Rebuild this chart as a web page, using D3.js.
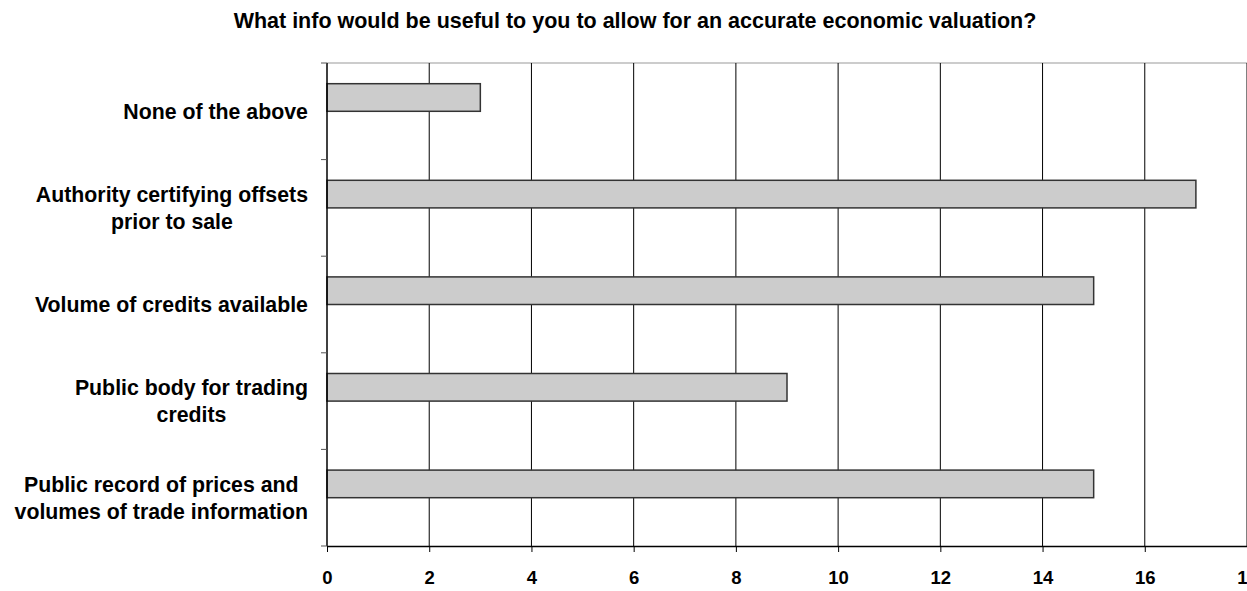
<!DOCTYPE html>
<html lang="en">

<head>
    <meta charset="UTF-8">
    <title>What info would be useful to you to allow for an accurate economic valuation?</title>
    <script src="https://d3js.org/d3.v7.min.js"></script>
    <style>
        body {
            margin: 0;
            background: #fff;
        }

        svg {
            display: block;
            font-family: "Liberation Sans", Arial, sans-serif;
            font-weight: bold;
        }
    </style>
</head>

<body>
    <svg width="1247" height="591"></svg>

    <script>
        // Categories top to bottom, with line breaks as in the original
        const categories = [
            "None of the above",
            "Authority certifying offsets\nprior to sale",
            "Volume of credits available",
            "Public body for trading\ncredits",
            "Public record of prices and\nvolumes of trade information"
        ];
        const counts = [3, 17, 15, 9, 15];
        const xTicks = [0, 2, 4, 6, 8, 10, 12, 14, 16, 18];
        const titleText = "What info would be useful to you to allow for an accurate economic valuation?";

        const svg = d3.select("svg"),
            margin = { top: 63, right: 0, bottom: 45, left: 327 },
            width = +svg.attr("width") - margin.left - margin.right,
            height = +svg.attr("height") - margin.top - margin.bottom;

        const g = svg.append("g").attr("transform", `translate(${margin.left},${margin.top})`);

        const x = d3.scaleLinear().domain([0, 18]).range([0, width]);
        const y = d3.scaleBand().domain(categories).range([0, height]).padding(0);
        // excel style: bar sits in the upper slot of a two-slot group
        const slot = d3.scaleBand().domain(["count", "empty"]).range([0, y.bandwidth()])
            .paddingInner(0).paddingOuter(0.75);

        // title
        svg.append("text")
            .attr("x", 635)
            .attr("y", 28)
            .attr("text-anchor", "middle")
            .attr("font-size", 21.5)
            .text(titleText);

        // top border
        g.append("line")
            .attr("x1", 0).attr("x2", width)
            .attr("y1", 0).attr("y2", 0)
            .attr("stroke", "#999");

        // vertical gridlines
        g.selectAll(".grid")
            .data(xTicks.filter(d => d > 0))
            .join("line")
            .attr("class", "grid")
            .attr("x1", d => x(d)).attr("x2", d => x(d))
            .attr("y1", 0).attr("y2", height)
            .attr("stroke", "#000")
            .attr("stroke-width", 1);

        // bars
        g.selectAll(".bar")
            .data(categories.map((c, i) => ({ cat: c, value: counts[i] })))
            .join("rect")
            .attr("class", "bar")
            .attr("x", x(0))
            .attr("y", d => y(d.cat) + slot("count"))
            .attr("width", d => x(d.value) - x(0))
            .attr("height", slot.bandwidth())
            .attr("fill", "#cccccc")
            .attr("stroke", "#333")
            .attr("stroke-width", 1.5);

        // x axis
        const xAxis = g.append("g")
            .attr("transform", `translate(0,${height})`)
            .call(d3.axisBottom(x).tickValues(xTicks).tickSize(6).tickPadding(19).tickSizeOuter(0));
        xAxis.select(".domain").attr("stroke", "#000").attr("stroke-width", 1.5);
        xAxis.selectAll(".tick line").attr("stroke", "#000");
        xAxis.selectAll(".tick text")
            .attr("font-size", 18.5)
            .attr("font-weight", "bold")
            .attr("font-family", "Liberation Sans, Arial, sans-serif")
            .attr("fill", "#000");

        // y axis: ticks at band boundaries, labels drawn separately
        const boundaries = d3.range(categories.length + 1).map(i => i * y.step());
        g.append("line")
            .attr("x1", 0).attr("x2", 0)
            .attr("y1", 0).attr("y2", height)
            .attr("stroke", "#000")
            .attr("stroke-width", 1.5);
        g.selectAll(".ytick")
            .data(boundaries)
            .join("line")
            .attr("class", "ytick")
            .attr("x1", -6).attr("x2", 0)
            .attr("y1", d => d).attr("y2", d => d)
            .attr("stroke", "#555");

        // category labels, multi-line block centered on each band
        const lineH = 27;
        categories.forEach(c => {
            const lines = c.split("\n");
            const cy = y(c) + y.bandwidth() / 2;
            const t = g.append("text")
                .attr("font-size", 21.3)
                .attr("text-anchor", "middle");
            lines.forEach((ln, i) => {
                t.append("tspan")
                    .attr("x", 0)
                    .attr("y", cy + (i - (lines.length - 1) / 2) * lineH)
                    .attr("dy", "0.35em")
                    .text(ln);
            });
            // right-align the whole block against the axis
            const bb = t.node().getBBox();
            t.attr("transform", `translate(${-19 - bb.width / 2},0)`);
        });
    </script>
</body>

</html>
